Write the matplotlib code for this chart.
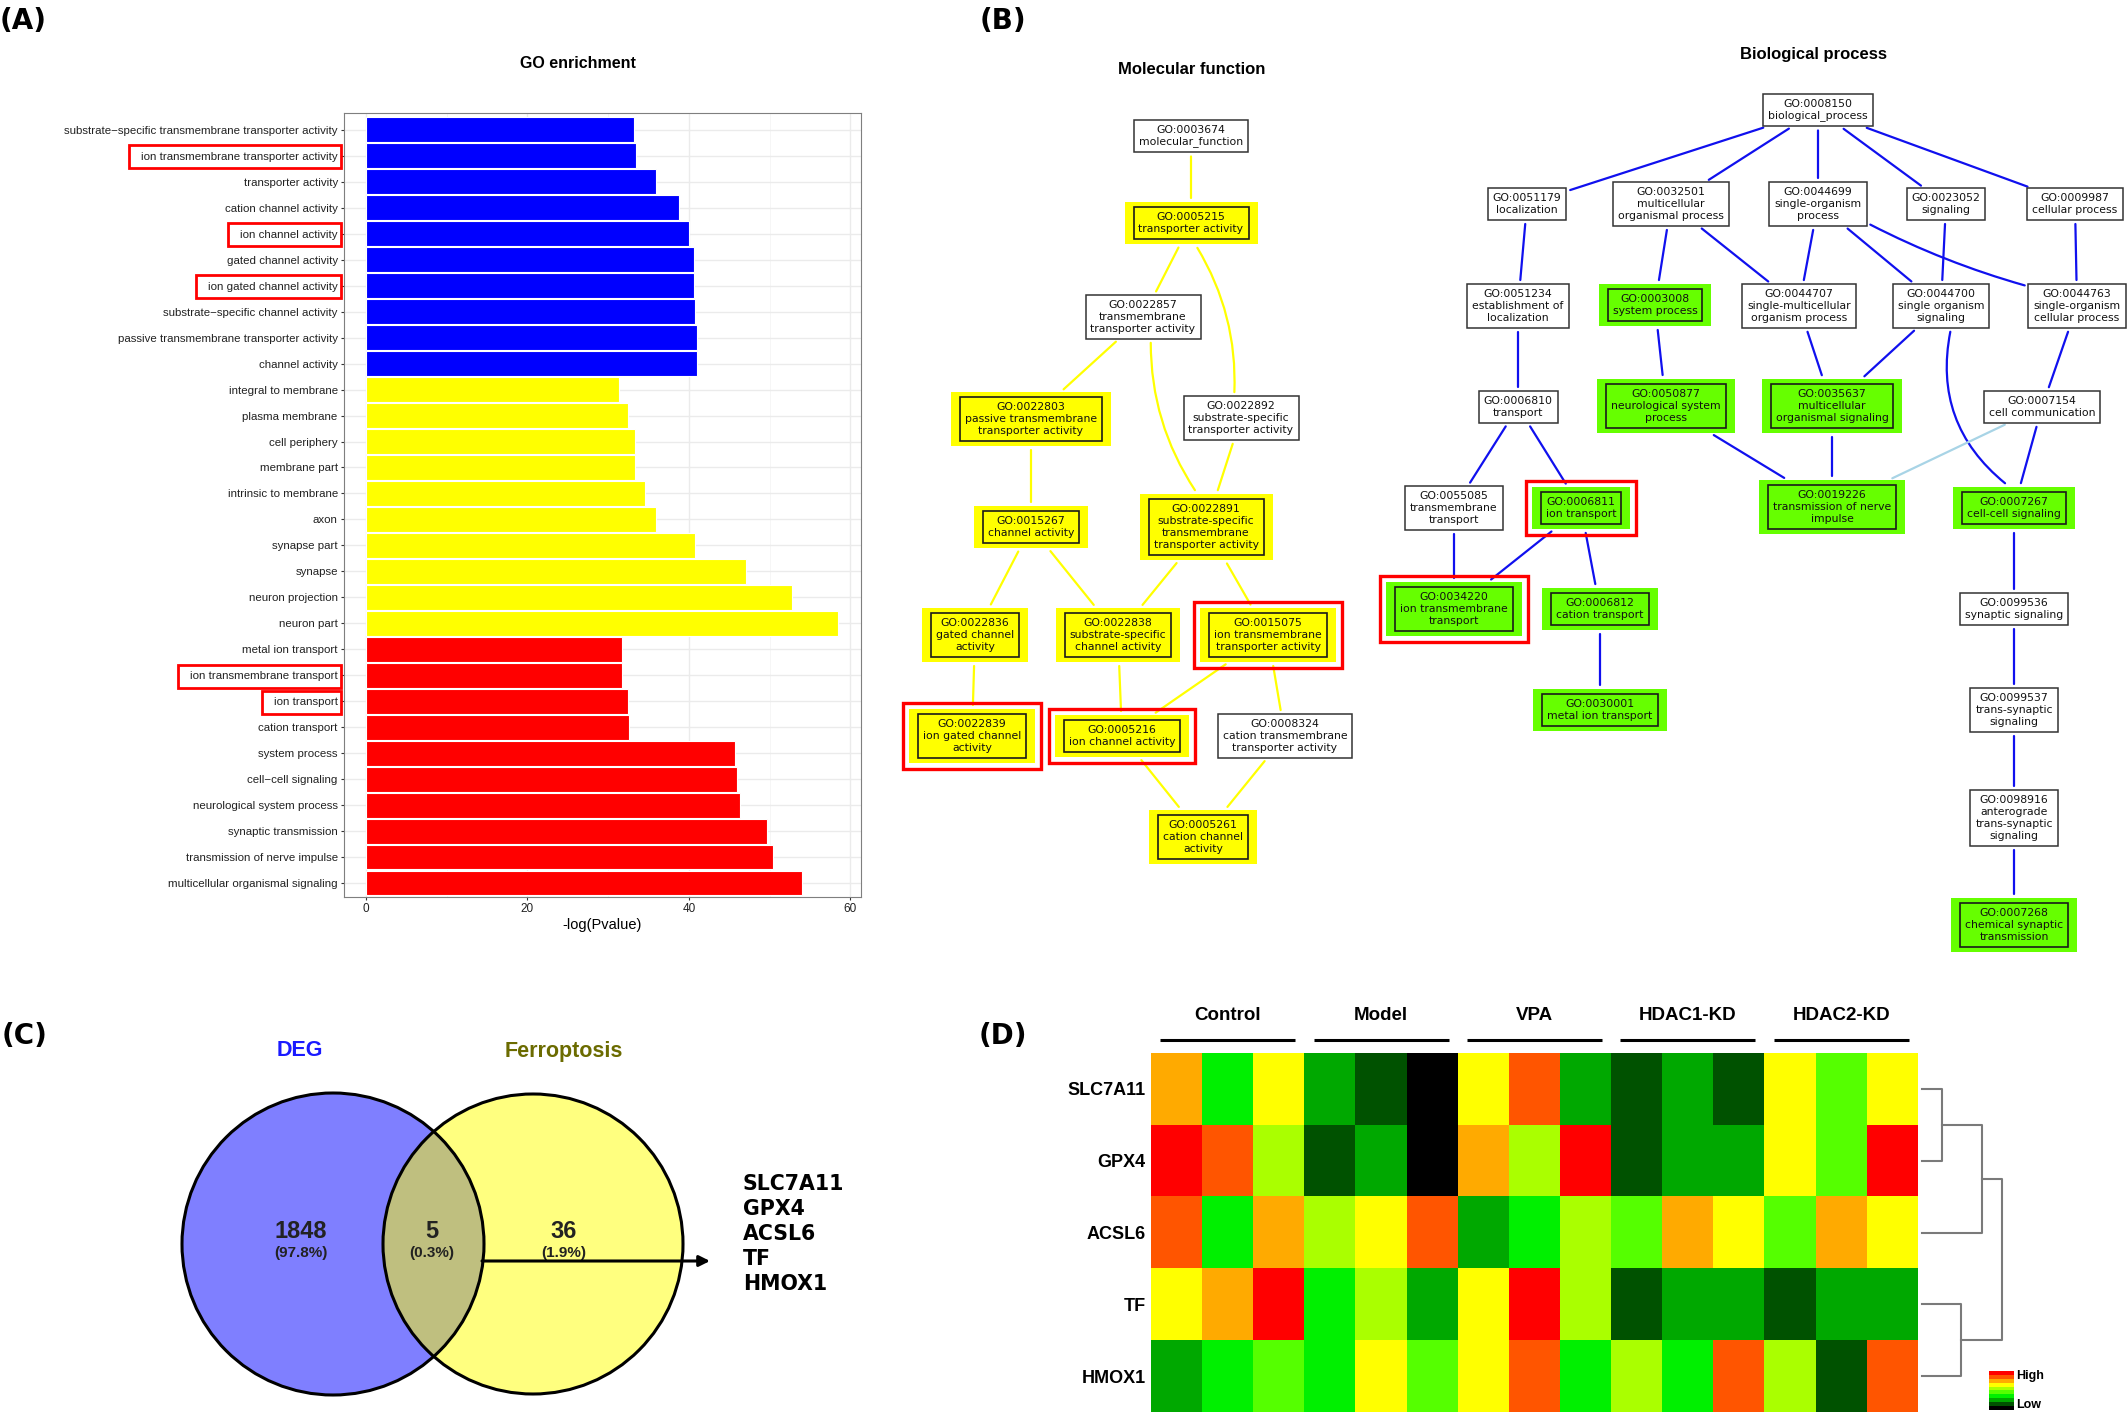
import numpy as np
import matplotlib
matplotlib.use('Agg')
import matplotlib.pyplot as plt
from matplotlib.patches import Rectangle, Circle, FancyArrowPatch
from matplotlib.colors import ListedColormap

plt.rcParams['font.family'] = ['Liberation Sans', 'DejaVu Sans']

W, H = 2128, 1422

# ---------------- (A) GO enrichment, top to bottom
go_terms = [
    'substrate\u2212specific transmembrane transporter activity',
    'ion transmembrane transporter activity',
    'transporter activity',
    'cation channel activity',
    'ion channel activity',
    'gated channel activity',
    'ion gated channel activity',
    'substrate\u2212specific channel activity',
    'passive transmembrane transporter activity',
    'channel activity',
    'integral to membrane',
    'plasma membrane',
    'cell periphery',
    'membrane part',
    'intrinsic to membrane',
    'axon',
    'synapse part',
    'synapse',
    'neuron projection',
    'neuron part',
    'metal ion transport',
    'ion transmembrane transport',
    'ion transport',
    'cation transport',
    'system process',
    'cell\u2212cell signaling',
    'neurological system process',
    'synaptic transmission',
    'transmission of nerve impulse',
    'multicellular organismal signaling',
]
go_scores = [33.2, 33.5, 35.9, 38.8, 40.0, 40.6, 40.6, 40.7, 41.0, 41.0,
             31.3, 32.5, 33.3, 33.3, 34.6, 35.9, 40.8, 47.1, 52.7, 58.5,
             31.7, 31.7, 32.4, 32.6, 45.7, 45.9, 46.3, 49.7, 50.4, 54.0]
go_category = ['MF'] * 10 + ['CC'] * 10 + ['BP'] * 10
category_colors = {'MF': '#0000ff', 'CC': '#ffff00', 'BP': '#ff0000'}
boxed_terms = ['ion transmembrane transporter activity', 'ion channel activity',
               'ion gated channel activity', 'ion transmembrane transport', 'ion transport']

# ---------------- (B) GO graphs
mf_nodes = [
    ('GO:0003674', 'molecular_function'),
    ('GO:0005215', 'transporter activity'),
    ('GO:0022857', 'transmembrane\ntransporter activity'),
    ('GO:0022803', 'passive transmembrane\ntransporter activity'),
    ('GO:0022892', 'substrate-specific\ntransporter activity'),
    ('GO:0015267', 'channel activity'),
    ('GO:0022891', 'substrate-specific\ntransmembrane\ntransporter activity'),
    ('GO:0022836', 'gated channel\nactivity'),
    ('GO:0022838', 'substrate-specific\nchannel activity'),
    ('GO:0015075', 'ion transmembrane\ntransporter activity'),
    ('GO:0022839', 'ion gated channel\nactivity'),
    ('GO:0005216', 'ion channel activity'),
    ('GO:0008324', 'cation transmembrane\ntransporter activity'),
    ('GO:0005261', 'cation channel\nactivity'),
]
mf_edges = [
    ('GO:0003674', 'GO:0005215'), ('GO:0005215', 'GO:0022857'), ('GO:0005215', 'GO:0022892'),
    ('GO:0022857', 'GO:0022803'), ('GO:0022857', 'GO:0022891'), ('GO:0022892', 'GO:0022891'),
    ('GO:0022803', 'GO:0015267'), ('GO:0015267', 'GO:0022836'), ('GO:0015267', 'GO:0022838'),
    ('GO:0022891', 'GO:0022838'), ('GO:0022891', 'GO:0015075'), ('GO:0022836', 'GO:0022839'),
    ('GO:0022838', 'GO:0005216'), ('GO:0015075', 'GO:0005216'), ('GO:0015075', 'GO:0008324'),
    ('GO:0005216', 'GO:0005261'), ('GO:0008324', 'GO:0005261'),
]
mf_hits = ['GO:0005215', 'GO:0022803', 'GO:0015267', 'GO:0022891', 'GO:0022836', 'GO:0022838',
           'GO:0015075', 'GO:0022839', 'GO:0005216', 'GO:0005261']
mf_boxed = ['GO:0015075', 'GO:0022839', 'GO:0005216']

bp_nodes = [
    ('GO:0008150', 'biological_process'),
    ('GO:0051179', 'localization'),
    ('GO:0032501', 'multicellular\norganismal process'),
    ('GO:0044699', 'single-organism\nprocess'),
    ('GO:0023052', 'signaling'),
    ('GO:0009987', 'cellular process'),
    ('GO:0051234', 'establishment of\nlocalization'),
    ('GO:0003008', 'system process'),
    ('GO:0044707', 'single-multicellular\norganism process'),
    ('GO:0044700', 'single organism\nsignaling'),
    ('GO:0044763', 'single-organism\ncellular process'),
    ('GO:0006810', 'transport'),
    ('GO:0050877', 'neurological system\nprocess'),
    ('GO:0035637', 'multicellular\norganismal signaling'),
    ('GO:0007154', 'cell communication'),
    ('GO:0055085', 'transmembrane\ntransport'),
    ('GO:0006811', 'ion transport'),
    ('GO:0019226', 'transmission of nerve\nimpulse'),
    ('GO:0007267', 'cell-cell signaling'),
    ('GO:0034220', 'ion transmembrane\ntransport'),
    ('GO:0006812', 'cation transport'),
    ('GO:0099536', 'synaptic signaling'),
    ('GO:0030001', 'metal ion transport'),
    ('GO:0099537', 'trans-synaptic\nsignaling'),
    ('GO:0098916', 'anterograde\ntrans-synaptic\nsignaling'),
    ('GO:0007268', 'chemical synaptic\ntransmission'),
]
bp_edges = [
    ('GO:0008150', 'GO:0051179'), ('GO:0008150', 'GO:0032501'), ('GO:0008150', 'GO:0044699'),
    ('GO:0008150', 'GO:0023052'), ('GO:0008150', 'GO:0009987'), ('GO:0051179', 'GO:0051234'),
    ('GO:0051234', 'GO:0006810'), ('GO:0032501', 'GO:0003008'), ('GO:0032501', 'GO:0044707'),
    ('GO:0044699', 'GO:0044707'), ('GO:0044699', 'GO:0044700'), ('GO:0044699', 'GO:0044763'),
    ('GO:0023052', 'GO:0044700'), ('GO:0009987', 'GO:0044763'), ('GO:0003008', 'GO:0050877'),
    ('GO:0044707', 'GO:0035637'), ('GO:0044700', 'GO:0035637'), ('GO:0044700', 'GO:0007267'),
    ('GO:0044763', 'GO:0007154'), ('GO:0050877', 'GO:0019226'), ('GO:0035637', 'GO:0019226'),
    ('GO:0007154', 'GO:0019226'), ('GO:0007154', 'GO:0007267'), ('GO:0006810', 'GO:0055085'),
    ('GO:0006810', 'GO:0006811'), ('GO:0055085', 'GO:0034220'), ('GO:0006811', 'GO:0034220'),
    ('GO:0006811', 'GO:0006812'), ('GO:0006812', 'GO:0030001'), ('GO:0007267', 'GO:0099536'),
    ('GO:0099536', 'GO:0099537'), ('GO:0099537', 'GO:0098916'), ('GO:0098916', 'GO:0007268'),
]
bp_hits = ['GO:0003008', 'GO:0050877', 'GO:0035637', 'GO:0019226', 'GO:0007267', 'GO:0006811',
           'GO:0034220', 'GO:0006812', 'GO:0030001', 'GO:0007268']
bp_boxed = ['GO:0006811', 'GO:0034220']
bp_faint = [('GO:0007154', 'GO:0019226')]

# ---------------- (C) Venn counts
deg_only, shared, ferro_only = 1848, 5, 36
shared_genes = ['SLC7A11', 'GPX4', 'ACSL6', 'TF', 'HMOX1']

# ---------------- (D) heatmap (colour level 0 = low ... 9 = high)
groups = ['Control', 'Model', 'VPA', 'HDAC1-KD', 'HDAC2-KD']
heat_genes = ['SLC7A11', 'GPX4', 'ACSL6', 'TF', 'HMOX1']
heat_levels = np.array([
    [7, 3, 6, 2, 1, 0, 6, 8, 2, 1, 2, 1, 6, 4, 6],
    [9, 8, 5, 1, 2, 0, 7, 5, 9, 1, 2, 2, 6, 4, 9],
    [8, 3, 7, 5, 6, 8, 2, 3, 5, 4, 7, 6, 4, 7, 6],
    [6, 7, 9, 3, 5, 2, 6, 9, 5, 1, 2, 2, 1, 2, 2],
    [2, 3, 4, 3, 6, 4, 6, 8, 3, 5, 3, 8, 5, 1, 8],
])
# row dendrogram merges: (left, right, height), new nodes numbered from 5
dendro_merges = [(0, 1, 0.25), (3, 4, 0.49), (5, 2, 0.75), (7, 6, 1.0)]
level_colors = ['#000000', '#005200', '#00a800', '#00f000', '#55ff00',
                '#aaff00', '#ffff00', '#ffaa00', '#ff5500', '#ff0000']

# layout of graph nodes (pixel centres)
mf_pos = {
    'GO:0003674': (1191, 136), 'GO:0005215': (1191, 223), 'GO:0022857': (1143, 317),
    'GO:0022803': (1031, 419), 'GO:0022892': (1241, 418), 'GO:0015267': (1031, 527),
    'GO:0022891': (1206, 527), 'GO:0022836': (975, 635), 'GO:0022838': (1118, 635),
    'GO:0015075': (1268, 635), 'GO:0022839': (972, 736), 'GO:0005216': (1122, 736),
    'GO:0008324': (1285, 736), 'GO:0005261': (1203, 837),
}
bp_pos = {
    'GO:0008150': (1818, 110), 'GO:0051179': (1527, 204), 'GO:0032501': (1671, 204),
    'GO:0044699': (1818, 204), 'GO:0023052': (1946, 204), 'GO:0009987': (2075, 204),
    'GO:0051234': (1518, 306), 'GO:0003008': (1655, 305), 'GO:0044707': (1799, 306),
    'GO:0044700': (1941, 306), 'GO:0044763': (2077, 306), 'GO:0006810': (1518, 407),
    'GO:0050877': (1666, 406), 'GO:0035637': (1832, 406), 'GO:0007154': (2042, 407),
    'GO:0055085': (1454, 508), 'GO:0006811': (1581, 508), 'GO:0019226': (1832, 507),
    'GO:0007267': (2014, 508), 'GO:0034220': (1454, 609), 'GO:0006812': (1600, 609),
    'GO:0099536': (2014, 609), 'GO:0030001': (1600, 710), 'GO:0099537': (2014, 710),
    'GO:0098916': (2014, 818), 'GO:0007268': (2014, 925),
}
mf_bend = {('GO:0005215', 'GO:0022892'): -0.15, ('GO:0022857', 'GO:0022891'): 0.15}
bp_bend = {('GO:0044700', 'GO:0007267'): 0.3, ('GO:0044699', 'GO:0044763'): 0.05}

fig = plt.figure(figsize=(W / 100, H / 100), dpi=100)
ov = fig.add_axes([0, 0, 1, 1], zorder=5)
ov.set_xlim(0, W)
ov.set_ylim(H, 0)
ov.axis('off')
renderer = fig.canvas.get_renderer()


def to_px(bb):
    pts = ov.transData.inverted().transform([[bb.x0, bb.y0], [bb.x1, bb.y1]])
    return pts[:, 0].min(), pts[:, 0].max(), pts[:, 1].min(), pts[:, 1].max()


def exit_point(box, p, q, gap=4):
    x0, x1, y0, y1 = box
    dx, dy = q[0] - p[0], q[1] - p[1]
    ts = []
    if dx:
        ts.append(((x1 if dx > 0 else x0) - p[0]) / dx)
    if dy:
        ts.append(((y1 if dy > 0 else y0) - p[1]) / dy)
    t = min(ts) + gap / np.hypot(dx, dy)
    return p[0] + t * dx, p[1] + t * dy


def draw_graph(nodes, pos, edges, hits, boxed, hit_color, line_color, bend, faint=()):
    outer = {}
    for gid, label in nodes:
        x, y = pos[gid]
        t = ov.text(x, y, gid + '\n' + label, ha='center', va='center', fontsize=7.8,
                    family='DejaVu Sans', linespacing=1.25, color='#111111', zorder=6)
        x0, x1, y0, y1 = to_px(t.get_window_extent(renderer))
        x0, x1, y0, y1 = x0 - 5, x1 + 5, y0 - 5, y1 + 5
        if gid in hits:
            ox0, ox1, oy0, oy1 = x0 - 9, x1 + 9, y0 - 5, y1 + 5
            ov.add_patch(Rectangle((ox0, oy0), ox1 - ox0, oy1 - oy0, facecolor=hit_color,
                                   edgecolor='none', zorder=3))
            ov.add_patch(Rectangle((x0, y0), x1 - x0, y1 - y0, facecolor=hit_color,
                                   edgecolor='#1a1a1a', lw=1.2, zorder=4))
        else:
            ox0, ox1, oy0, oy1 = x0, x1, y0, y1
            ov.add_patch(Rectangle((x0, y0), x1 - x0, y1 - y0, facecolor='white',
                                   edgecolor='#333333', lw=1.1, zorder=4))
        if gid in boxed:
            ov.add_patch(Rectangle((ox0 - 6, oy0 - 6), ox1 - ox0 + 12, oy1 - oy0 + 12, fill=False,
                                   edgecolor='#ff0000', lw=2.4, zorder=4))
        outer[gid] = (ox0, ox1, oy0, oy1)
    for a, b in edges:
        pa = exit_point(outer[a], pos[a], pos[b])
        pb = exit_point(outer[b], pos[b], pos[a])
        col = '#a8d4e6' if (a, b) in faint else line_color
        ov.add_patch(FancyArrowPatch(pa, pb, arrowstyle='-', shrinkA=0, shrinkB=0,
                                     connectionstyle='arc3,rad=%s' % bend.get((a, b), 0),
                                     color=col, lw=1.6, zorder=2))


# ---------------- panel A
axA = fig.add_axes([344 / W, 1 - 897 / H, 517 / W, 784 / H], zorder=1)
yy = np.arange(len(go_terms))
axA.barh(yy, go_scores, height=0.96, color=[category_colors[c] for c in go_category],
         edgecolor='white', linewidth=0.8, zorder=3)
axA.set_ylim(len(go_terms) - 0.46, -0.65)
axA.set_xlim(-2.7, 61.3)
axA.set_yticks(yy)
axA.set_yticklabels(go_terms, fontsize=8.25, color='#222222')
axA.set_xticks([0, 20, 40, 60])
axA.set_xticks([10, 30, 50], minor=True)
axA.set_xticklabels(['0', '20', '40', '60'], fontsize=8.5, color='#222222')
axA.grid(which='major', color='#ebebeb', lw=1, zorder=0)
axA.grid(which='minor', axis='x', color='#f5f5f5', lw=0.6, zorder=0)
axA.tick_params(length=2.5, width=0.8, color='#333333', pad=2)
axA.tick_params(which='minor', length=0)
for s in axA.spines.values():
    s.set_color('#7f7f7f')
axA.set_xlabel('-log(Pvalue)', fontsize=10.5, labelpad=2)
ov.text(578, 63, 'GO enrichment', ha='center', va='center', fontsize=11.5, fontweight='bold')

fig.canvas.draw()
for lab in axA.get_yticklabels():
    if lab.get_text() in boxed_terms:
        x0, x1, y0, y1 = to_px(lab.get_window_extent(renderer))
        cy = (y0 + y1) / 2
        ov.add_patch(Rectangle((x0 - 12, cy - 11.5), x1 - x0 + 15, 23, fill=False,
                               edgecolor='#ff0000', lw=2.0, zorder=6))

# ---------------- panel B
ov.text(1192, 69, 'Molecular function', ha='center', va='center', fontsize=12, fontweight='bold')
ov.text(1814, 54, 'Biological process', ha='center', va='center', fontsize=12, fontweight='bold')
draw_graph(mf_nodes, mf_pos, mf_edges, mf_hits, mf_boxed, '#ffff00', '#ffff00', mf_bend)
draw_graph(bp_nodes, bp_pos, bp_edges, bp_hits, bp_boxed, '#66ff00', '#1010ee', bp_bend, bp_faint)

# ---------------- panel C
total = deg_only + shared + ferro_only
ov.add_patch(Circle((333, 1244), 151, facecolor='#0000ff', alpha=0.5, edgecolor='none', zorder=2))
ov.add_patch(Circle((533, 1244), 150, facecolor='#ffff00', alpha=0.5, edgecolor='none', zorder=2))
ov.add_patch(Circle((333, 1244), 151, fill=False, edgecolor='black', lw=2.2, zorder=3))
ov.add_patch(Circle((533, 1244), 150, fill=False, edgecolor='black', lw=2.2, zorder=3))
ov.text(300, 1051, 'DEG', ha='center', va='center', fontsize=15.5, fontweight='bold', color='#1a1aff')
ov.text(564, 1051, 'Ferroptosis', ha='center', va='center', fontsize=15.5, fontweight='bold',
        color='#6b6b00')
for xc, n in zip([301, 432, 564], [deg_only, shared, ferro_only]):
    ov.text(xc, 1232, str(n), ha='center', va='center', fontsize=17, fontweight='bold', color='#222222')
    ov.text(xc, 1253, '(%.1f%%)' % (100.0 * n / total), ha='center', va='center', fontsize=11,
            fontweight='bold', color='#222222')
ov.annotate('', xy=(710, 1261), xytext=(482, 1261),
            arrowprops=dict(arrowstyle='-|>', lw=2.2, color='black', mutation_scale=16,
                            shrinkA=0, shrinkB=0), zorder=4)
for i, g in enumerate(shared_genes):
    ov.text(743, 1184 + 25 * i, g, ha='left', va='center', fontsize=14.8, fontweight='bold',
            family='DejaVu Sans')

# ---------------- panel D
cmap = ListedColormap(level_colors)
axD = fig.add_axes([1151 / W, 1 - 1412 / H, 767 / W, 359 / H], zorder=1)
axD.imshow(heat_levels, cmap=cmap, vmin=-0.5, vmax=9.5, aspect='auto', interpolation='nearest')
axD.set_xticks([])
axD.set_yticks(range(len(heat_genes)))
axD.set_yticklabels(heat_genes, fontsize=13, fontweight='bold')
axD.tick_params(length=0, pad=4)
for s in axD.spines.values():
    s.set_visible(False)
for i, g in enumerate(groups):
    axD.text(3 * i + 1, -1.02, g, ha='center', va='center', fontsize=13.5, fontweight='bold',
             clip_on=False)
    axD.plot([3 * i - 0.5 + 0.18, 3 * i + 2.5 - 0.18], [-0.68, -0.68], color='black', lw=2.2,
             solid_capstyle='butt', clip_on=False)
axD.set_xlim(-0.5, heat_levels.shape[1] - 0.5)
axD.set_ylim(heat_levels.shape[0] - 0.5, -0.5)

axDen = fig.add_axes([1918 / W, 1 - 1412 / H, 100 / W, 359 / H], zorder=1)
node_y = {i: float(i) for i in range(len(heat_genes))}
node_h = {i: 0.0 for i in range(len(heat_genes))}
for k, (a, b, h) in enumerate(dendro_merges):
    axDen.plot([node_h[a], h, h, node_h[b]], [node_y[a], node_y[a], node_y[b], node_y[b]],
               color='#7a7a7a', lw=1.5)
    new = len(heat_genes) + k
    node_y[new] = (node_y[a] + node_y[b]) / 2
    node_h[new] = h
axDen.set_ylim(len(heat_genes) - 0.5, -0.5)
axDen.set_xlim(-0.05, 1.2)
axDen.axis('off')

axL = fig.add_axes([1989 / W, 1 - 1410 / H, 25 / W, 39 / H], zorder=1)
axL.imshow(np.arange(len(level_colors))[::-1].reshape(-1, 1), cmap=cmap, vmin=-0.5, vmax=9.5,
           aspect='auto', interpolation='nearest')
axL.axis('off')
ov.text(2016, 1376, 'High', ha='left', va='center', fontsize=9, fontweight='bold')
ov.text(2016, 1405, 'Low', ha='left', va='center', fontsize=9, fontweight='bold')

# ---------------- panel labels
for lab, x, y in [('(A)', 0, 21), ('(B)', 980, 21), ('(C)', 2, 1036), ('(D)', 979, 1036)]:
    ov.text(x, y, lab, ha='left', va='center', fontsize=20, fontweight='bold', family='DejaVu Sans')

fig.savefig('out.png', dpi=100)
